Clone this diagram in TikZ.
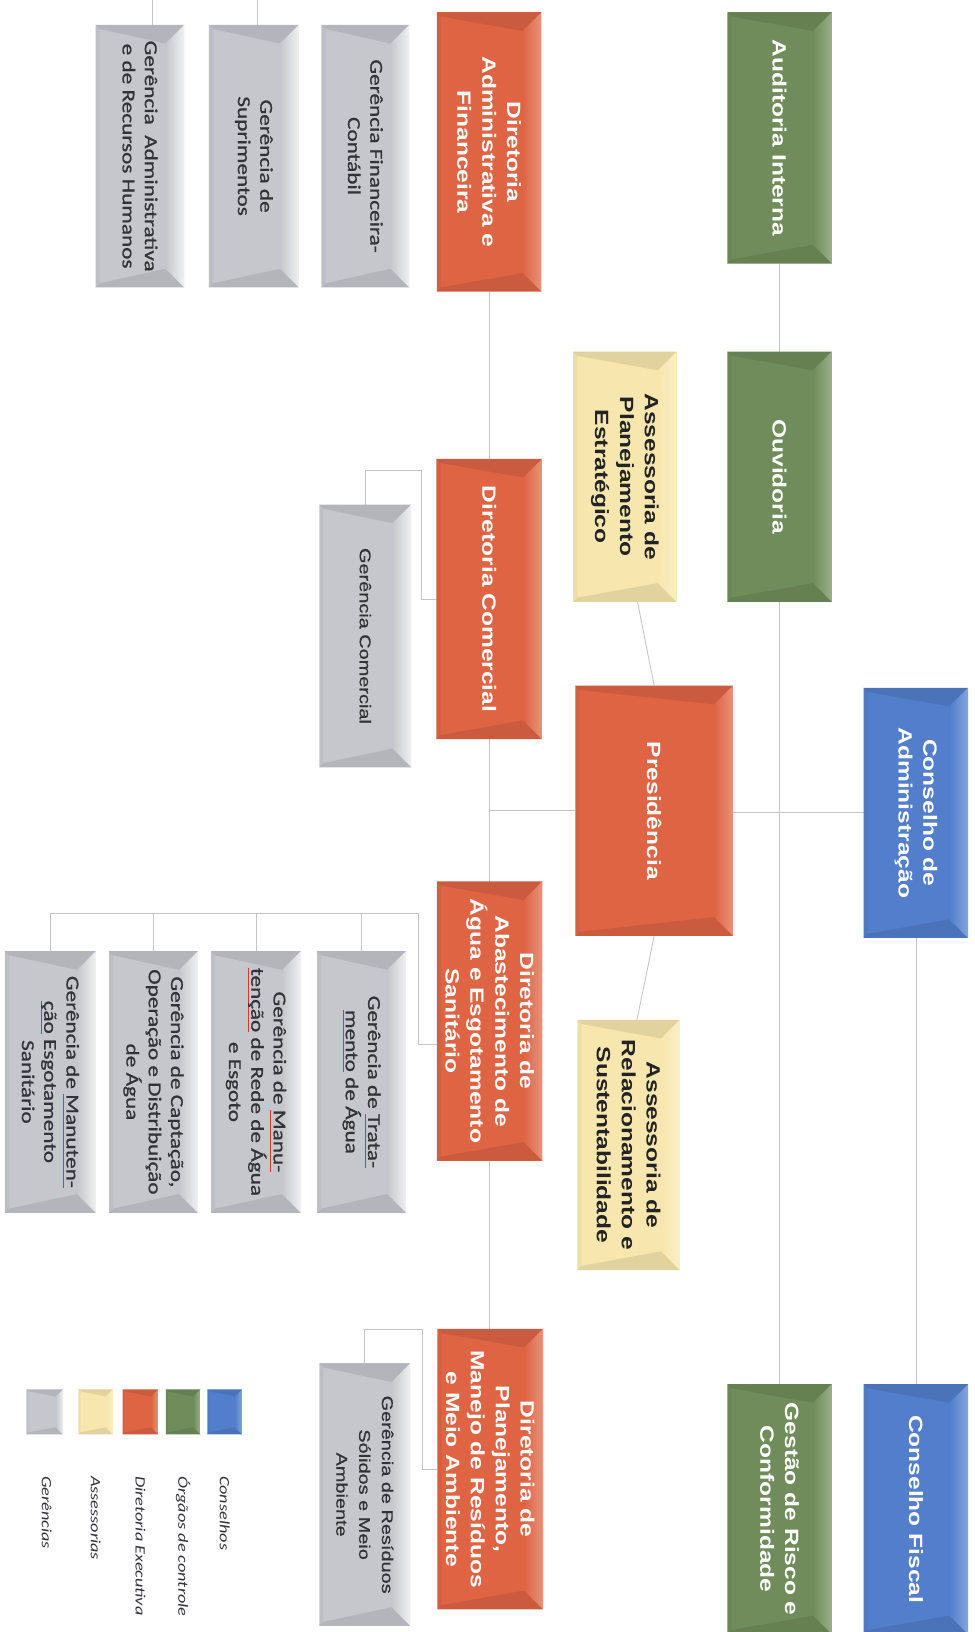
\documentclass[tikz,border=0pt]{standalone}
\usepackage{fontspec}
\setmainfont{Liberation Sans}
\newfontfamily\fb{Liberation Sans}[FakeStretch=1.28]
\newfontfamily\fbb{Liberation Sans}[FakeStretch=1.28,FakeBold=0.8]
\newfontfamily\fc{Carlito}[FakeStretch=1.28,FakeBold=0.9]
\newfontfamily\fci{Carlito}[FakeStretch=1.28]
\usetikzlibrary{calc}
\definecolor{cblue}{RGB}{82,126,204}
\definecolor{cgreen}{RGB}{112,140,90}
\definecolor{corange}{RGB}{222,100,68}
\definecolor{cyellow}{RGB}{247,231,174}
\definecolor{cgray}{RGB}{198,199,204}
\definecolor{tdark}{RGB}{35,35,35}
\definecolor{tgray}{RGB}{50,50,55}
\definecolor{lgray}{RGB}{195,195,200}
\definecolor{sqred}{RGB}{205,60,50}
\pgfdeclarelayer{background}
\pgfsetlayers{background,main}
\def\bevR{18}\def\bevS{4}\def\lite{70}
\newcommand\sq[1]{\setbox0\hbox{#1}\rlap{\color{sqred}\rule[-3pt]{\wd0}{0.9pt}}\box0\relax}
\newcommand\ebox[8]{%
 \node[ebase,fill=#6,minimum width=#4bp,minimum height=#5bp] (#1) at (#2,#3) {};
 \fill[#6!96!black] (#1.north west) -- ($(#1.north west)+(\bevS,\bevS)$) -- ($(#1.south west)+(\bevS,-\bevS)$) -- (#1.south west) -- cycle;
 \fill[#6!91!black] (#1.north west) -- (#1.north east) -- ($(#1.north east)+(-\bevR,\bevR)$) -- ($(#1.north west)+(\bevS,\bevS)$) -- cycle;
 \fill[#6!91!black] (#1.south west) -- (#1.south east) -- ($(#1.south east)+(-\bevR,-\bevR)$) -- ($(#1.south west)+(\bevS,-\bevS)$) -- cycle;
 \shade[left color=#6, right color=#6!\lite!white] (#1.north east) -- ($(#1.north east)+(-\bevR,\bevR)$) -- ($(#1.south east)+(-\bevR,-\bevR)$) -- (#1.south east) -- cycle;
 \node[rotate=-90,align=center,inner sep=0pt,#7] (#1t) at (#1) {#8};
}
\tikzset{
 ebase/.style={rectangle,inner sep=0pt,draw=none},
 conn/.style={draw=lgray,line width=0.8bp},
 wtxt/.style={text=white,font=\fb\bfseries\fontsize{18.5}{24}\selectfont},
 dtxt/.style={text=tdark,font=\fb\bfseries\fontsize{18.5}{24}\selectfont},
 gtxt/.style={text=tgray,font=\fc\fontsize{17.5}{21.5}\selectfont},
 atxt/.style={text=tgray,font=\fbb\fontsize{15}{22}\selectfont},
 legt/.style={rotate=-90,anchor=west,inner sep=0pt,text=tgray,font=\fci\itshape\fontsize{13.75}{16}\selectfont}
}
\begin{document}
\begin{tikzpicture}[x=1bp,y=-1bp]
\useasboundingbox (0,0) rectangle (936,1568);
\clip (0,0) rectangle (936,1568);
% control organs and councils
\ebox{aud}{749}{132.5}{100}{241}{cgreen}{wtxt}{Auditoria Interna}
\ebox{ouv}{749}{458}{100}{240}{cgreen}{wtxt}{Ouvidoria}
\ebox{gest}{749}{1450}{100}{240}{cgreen}{wtxt}{Gestão de Risco e\\Conformidade}
\ebox{cadm}{880}{781}{100}{240}{cblue}{wtxt}{Conselho de\\Administração}
\ebox{cfis}{880}{1450}{100}{240}{cblue}{wtxt}{Conselho Fiscal}
% presidency and advisors
\ebox{aspe}{600.5}{458}{99}{240}{cyellow}{dtxt}{Assessoria de\\Planejamento\\Estratégico}
\ebox{pres}{628.5}{779}{151}{240}{corange}{wtxt}{Presidência}
\ebox{asrs}{604}{1100}{98}{240}{cyellow}{dtxt}{Assessoria de\\Relacionamento e\\Sustentabilidade}
% directorates
\ebox{dadm}{470}{146}{100}{268}{corange}{wtxt}{Diretoria\\Administrativa e\\Financeira}
\ebox{dcom}{470}{575.5}{101}{269}{corange}{wtxt}{Diretoria Comercial}
\ebox{dabs}{470.5}{981}{101}{268}{corange}{wtxt}{Diretoria de\\Abastecimento de\\Água e Esgotamento\\Sanitário}
\ebox{dpla}{471}{1411.5}{101}{269}{corange}{wtxt}{Diretoria de\\Planejamento,\\Manejo de Resíduos\\e Meio Ambiente}
% managements
\def\lite{25}
\ebox{gfin}{351}{150}{84}{252}{cgray}{gtxt}{Gerência Financeira-\\Contábil}
\ebox{gsup}{244}{150}{86}{252}{cgray}{gtxt}{Gerência de\\Suprimentos}
\ebox{gadm}{134.5}{150}{85}{252}{cgray}{gtxt}{Gerência\ \ Administrativa\\e de Recursos Humanos}
\ebox{gcom}{351}{611}{88}{252}{cgray}{atxt}{Gerência Comercial}
\ebox{gtra}{347.5}{1039.5}{85}{251}{cgray}{gtxt}{Gerência de \sq{Trata-}\\\sq{mento} de Água}
\ebox{gman}{246}{1039.5}{86}{251}{cgray}{gtxt}{Gerência de \sq{Manu-}\\\sq{tenção} de Rede de Água\\e Esgoto}
\ebox{gcap}{147.5}{1039.5}{85}{251}{cgray}{gtxt}{Gerência de Captação,\\Operação e Distribuição\\de Água}
\ebox{gesg}{48.5}{1039.5}{87}{251}{cgray}{gtxt}{Gerência de \sq{Manuten-}\\\sq{ção} Esgotamento\\Sanitário}
\ebox{gres}{350.5}{1436}{87}{252}{cgray}{atxt}{Gerência de Resíduos\\Sólidos e Meio\\Ambiente}
% legend
\def\bevR{7}\def\bevS{2}\def\lite{70}
\ebox{lg1}{216}{1356.5}{33}{43}{cblue}{wtxt}{}
\ebox{lg2}{176}{1356.5}{33}{43}{cgreen}{wtxt}{}
\ebox{lg3}{135}{1356.5}{34}{43}{corange}{wtxt}{}
\ebox{lg4}{92}{1356.5}{33}{43}{cyellow}{wtxt}{}
\def\lite{25}
\ebox{lg5}{43}{1356.5}{35}{43}{cgray}{wtxt}{}
\node[legt] (lgt1) at (216,1418) {Conselhos};
\node[legt] (lgt2) at (176,1418) {Órgãos de controle};
\node[legt] (lgt3) at (135,1418) {Diretoria Executiva};
\node[legt] (lgt4) at (92,1418) {Assessorias};
\node[legt] (lgt5) at (45,1418) {Gerências};
% connectors
\coordinate (ta) at (146,0);
\coordinate (tb) at (247,0);
\begin{pgfonlayer}{background}
\fill[white] (0,0) rectangle (936,1568);
\draw[conn] (aud.south) -- (ouv.north);
\draw[conn] (ouv.south) -- (gest.north);
\draw[conn] (cadm.west) -- (cadm.west -| pres.east);
\draw[conn] (cadm.south) -- (cfis.north);
\draw[conn] (pres.west) -- (pres.west -| dcom.center);
\draw[conn] (dadm.south) -- (dadm.south |- dpla.north);
\draw[conn] ($(aspe.south)+(12,0)$) -- (pres.north);
\draw[conn] (pres.south) -- ($(asrs.north)+(8,0)$);
\draw[conn] (ta) -- (ta |- gadm.north);
\draw[conn] (tb) -- (tb |- gsup.north);
\draw[conn] (dcom.west) -- ++(-14,0) |- ($(gcom.north)+(0,-33)$) -- (gcom.north);
\draw[conn] ($(dabs.west)+(0,22)$) -- ++(-18,0) |- ($(gesg.north)+(0,-36)$) -- (gesg.north);
\draw[conn] ($(gtra.north)+(0,-36)$) -- (gtra.north);
\draw[conn] ($(gman.north)+(0,-36)$) -- (gman.north);
\draw[conn] ($(gcap.north)+(0,-36)$) -- (gcap.north);
\draw[conn] (dpla.west) -- ++(-14,0) |- ($(gres.north)+(0,-33)$) -- (gres.north);
\end{pgfonlayer}
\end{tikzpicture}
\end{document}
